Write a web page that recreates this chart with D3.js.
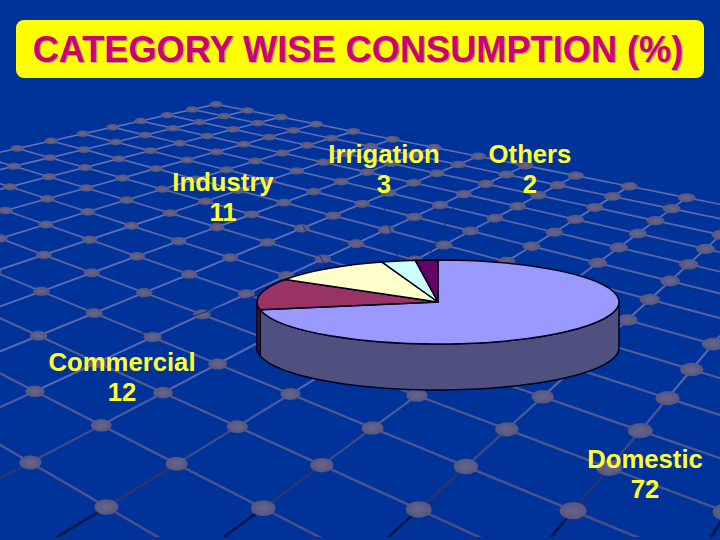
<!DOCTYPE html>
<html><head><meta charset="utf-8">
<script src="https://cdnjs.cloudflare.com/ajax/libs/d3/7.8.5/d3.min.js"></script>
<style>html,body{margin:0;padding:0;background:#003399}svg{display:block}text{font-family:"Liberation Sans",Arial,sans-serif;font-weight:bold}</style>
</head><body><svg id="c" width="720" height="540"></svg>
<script>
const categories=["Domestic","Commercial","Industry","Irrigation","Others"];
const values=[72,12,11,3,2];
const colors=["#9999ff","#993366","#ffffcc","#ccffff","#660066"];
const sideColors=["#4f4f80","#4d1a33"];
const titleText="CATEGORY WISE CONSUMPTION (%)";
const labelAnchors=[[645,460],[122,363],[223,183],[384,155],[530,155]];
const leaderEnds=[[630,420],[120,340],[303,226],[384,208],[455,205]];

const W=720,H=540,svg=d3.select("#c");
const defs=svg.append("defs");
const grad=defs.append("radialGradient").attr("id","node").attr("cx","50%").attr("cy","50%").attr("r","55%");
grad.append("stop").attr("offset","0%").attr("stop-color","#66668e");
grad.append("stop").attr("offset","100%").attr("stop-color","#54547c");
defs.append("clipPath").attr("id","floorClip").append("rect").attr("x",0).attr("y",0).attr("width",W).attr("height",537);
svg.append("rect").attr("width",W).attr("height",H).attr("fill","#003399");

function solve(A,b){const n=b.length,M=A.map((r,i)=>[...r,b[i]]);
 for(let i=0;i<n;i++){let p=i;for(let k=i+1;k<n;k++)if(Math.abs(M[k][i])>Math.abs(M[p][i]))p=k;[M[i],M[p]]=[M[p],M[i]];
  for(let k=0;k<n;k++)if(k!==i){const f=M[k][i]/M[i][i];for(let j=i;j<=n;j++)M[k][j]-=f*M[i][j];}}
 return M.map((r,i)=>r[n]/r[i]);}
const ctrl=[[0,0,100,508],[1,0,172,463],[2,0,236,426],[3,0,288,392],[1,1,260,510],[2,1,319,466],[3,1,371,428],[4,1,415,396],[2,2,419,515],[3,2,468,468],[4,2,509,430],[5,2,543,398],[3,3,574,512],[4,3,608,471],[5,3,640,433],[6,3,672,395],[0,-1,32,463],[1,-1,102,425],[2,-1,163,390],[3,-1,220,362],[1,-2,40,390],[2,-2,103,358],[15,-10,211,105],[11,-10,112,127],[15,-5,404,142],[15,0,622,182]];
const mA=[],mB=[];ctrl.forEach(([u,v,x,y])=>{mA.push([u,v,1,0,0,0,-u*x,-v*x]);mB.push(x);mA.push([0,0,0,u,v,1,-u*y,-v*y]);mB.push(y);});
const ATA=d3.range(8).map(i=>d3.range(8).map(j=>d3.sum(mA,r=>r[i]*r[j])));
const ATb=d3.range(8).map(i=>d3.sum(mA,(r,k)=>r[i]*mB[k]));
const hm=solve(ATA,ATb);
const proj=(u,v)=>{const w=hm[6]*u+hm[7]*v+1;return [(hm[0]*u+hm[1]*v+hm[2])/w,(hm[3]*u+hm[4]*v+hm[5])/w];};
const us=d3.range(-4,16),vs=d3.range(-10,9);
const lines=svg.append("g").attr("clip-path","url(#floorClip)");
const bColor=d3.scaleLinear().domain([100,380,470,537]).range(["#6675bc","#5766ae","#343e7e","#0a1448"]).clamp(true);
const aColor=d3.scaleLinear().domain([100,300,537]).range(["#6672b8","#58609e","#484f88"]).clamp(true);
const width=d3.scaleLinear().domain([100,537]).range([1.4,2.6]).clamp(true);
function seg(a,b,col){const y=(a[1]+b[1])/2;lines.append("line").attr("x1",a[0]).attr("y1",a[1]).attr("x2",b[0]).attr("y2",b[1]).attr("stroke",col(y)).attr("stroke-width",width(y)).attr("stroke-linecap","round");}
us.forEach(u=>d3.pairs(vs).forEach(([v,w])=>seg(proj(u,v),proj(u,w),aColor)));
vs.forEach(v=>d3.pairs(us).forEach(([u,w])=>seg(proj(u,v),proj(w,v),bColor)));
const nodes=svg.append("g");
us.forEach(u=>vs.forEach(v=>{
 const p=proj(u,v),q=proj(u-1,v+1);
 const dx=Math.hypot(q[0]-p[0],q[1]-p[1]);
 if(p[0]<-20||p[0]>740||p[1]>530)return;
 const nrx=Math.min(13.5,5.8+0.056*dx),nry=nrx*(0.47+0.17*Math.min(1,(p[1]-100)/400));
 nodes.append("ellipse").attr("cx",p[0]).attr("cy",p[1]).attr("rx",nrx).attr("ry",nry).attr("fill","url(#node)");
}));

// title
svg.append("rect").attr("x",16).attr("y",20).attr("width",688).attr("height",58).attr("rx",8).attr("fill","#ffff00");
[["#b0a860",1.2,1.2],["#cc0077",0,0]].forEach(([f,dx,dy])=>svg.append("text").attr("x",358+dx).attr("y",61.5+dy).attr("text-anchor","middle").attr("font-size",36.2).attr("fill",f).text(titleText));

// pie
const cx=438,cy=302,rx=181,ry=42,depth=46;
const rScale=d3.scaleLinear().domain([0,1]).range([0,rx]);
const arcs=d3.pie().sort(null).value(d=>d)(values);
const pt=(a,dy=0)=>[cx+rx*Math.sin(a),cy-ry*Math.cos(a)+dy];
const stroke="#000018";
arcs.forEach((a,i)=>{
 const mid=(a.startAngle+a.endAngle)/2,front=Math.cos(mid)<0&&i===0;
 svg.append("path").attr("d",d3.line()([pt(mid,front?depth:0),leaderEnds[i]])).attr("stroke","#122a80").attr("stroke-width",1).attr("fill","none");
});
arcs.forEach((a,i)=>{
 const s=Math.max(a.startAngle,Math.PI/2),e=Math.min(a.endAngle,3*Math.PI/2);
 if(e<=s)return;
 const angs=d3.range(0,61).map(k=>s+(e-s)*k/60);
 const d=d3.line()([...angs.map(t=>pt(t)),...angs.slice().reverse().map(t=>pt(t,depth))])+"Z";
 svg.append("path").attr("d",d).attr("fill",sideColors[i]||colors[i]).attr("stroke",stroke).attr("stroke-width",1.5).attr("stroke-linejoin","round");
});
const arc=d3.arc().innerRadius(0).outerRadius(rScale(1));
const topFace=svg.append("g").attr("transform",`translate(${cx},${cy}) scale(1,${ry/rx})`);
topFace.selectAll("path").data(arcs).join("path").attr("d",arc).attr("fill",(d,i)=>colors[i]).attr("stroke",stroke).attr("stroke-width",1.5).attr("vector-effect","non-scaling-stroke").attr("stroke-linejoin","round");

// labels
categories.forEach((c,i)=>{
 const [x,y]=labelAnchors[i];
 const t=svg.append("text").attr("text-anchor","middle").attr("font-size",25.7).attr("fill","#ffff33");
 t.append("tspan").attr("x",x).attr("y",y+8).text(c);
 t.append("tspan").attr("x",x).attr("y",y+38).text(values[i]);
});
</script></body></html>
